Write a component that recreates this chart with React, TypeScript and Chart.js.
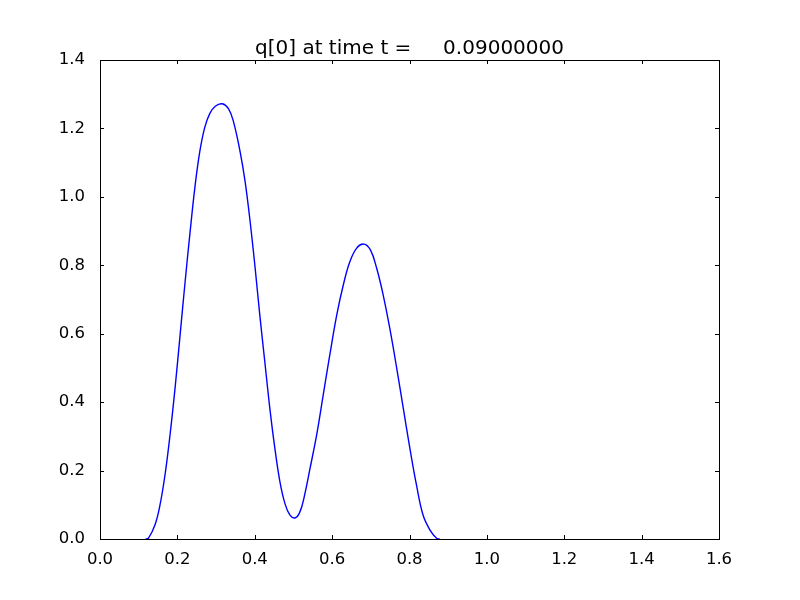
import React, { useEffect, useRef } from "react";
import { Chart, registerables } from "chart.js";

Chart.register(...registerables);

const titleText = "q[0] at time t =     0.09000000";

const xValues = [
  0.118, 0.125, 0.142, 0.155, 0.168, 0.181, 0.194, 0.207, 0.22, 0.233, 0.245, 0.258, 0.271, 0.284, 0.298,
  0.316, 0.332, 0.345, 0.362, 0.375, 0.388, 0.401, 0.413, 0.426, 0.439, 0.452, 0.465, 0.478, 0.491,
  0.505, 0.517, 0.528, 0.543, 0.56, 0.577, 0.594, 0.612, 0.629, 0.646, 0.664, 0.682, 0.699, 0.715,
  0.732, 0.749, 0.767, 0.784, 0.801, 0.818, 0.835, 0.853, 0.87, 0.878,
];
const qValues = [
  0.0, 0.002, 0.041, 0.099, 0.187, 0.304, 0.441, 0.596, 0.752, 0.899, 1.025, 1.133, 1.204, 1.244, 1.265,
  1.272, 1.258, 1.22, 1.133, 1.045, 0.928, 0.792, 0.655, 0.518, 0.382, 0.265, 0.168, 0.104, 0.07,
  0.062, 0.08, 0.124, 0.207, 0.304, 0.421, 0.538, 0.655, 0.743, 0.811, 0.851, 0.862, 0.845, 0.792,
  0.713, 0.616, 0.499, 0.382, 0.265, 0.158, 0.07, 0.026, 0.002, 0.0,
];
const xTicks = [0, 0.2, 0.4, 0.6, 0.8, 1.0, 1.2, 1.4, 1.6];
const yTicks = [0, 0.2, 0.4, 0.6, 0.8, 1.0, 1.2, 1.4];

const FONT = "'DejaVu Sans', sans-serif";

const framePlugin = {
  id: "mplFrame",
  afterDraw(chart: any) {
    const { ctx, chartArea, scales } = chart;
    const { left, right, top, bottom } = chartArea;
    ctx.save();
    ctx.strokeStyle = "#000";
    ctx.lineWidth = 1;
    ctx.beginPath();
    for (const v of xTicks) {
      const px = Math.round(scales.x.getPixelForValue(v)) + 0.5;
      ctx.moveTo(px, bottom);
      ctx.lineTo(px, bottom - 4);
      ctx.moveTo(px, top);
      ctx.lineTo(px, top + 4);
    }
    for (const v of yTicks) {
      const py = Math.round(scales.y.getPixelForValue(v)) + 0.5;
      ctx.moveTo(left, py);
      ctx.lineTo(left + 4, py);
      ctx.moveTo(right, py);
      ctx.lineTo(right - 4, py);
    }
    ctx.stroke();
    ctx.strokeRect(Math.round(left) + 0.5, Math.round(top) + 0.5, Math.round(right - left), Math.round(bottom - top));
    ctx.fillStyle = "#000";
    ctx.font = `20px ${FONT}`;
    ctx.textAlign = "center";
    ctx.textBaseline = "alphabetic";
    ctx.fillText(titleText, (left + right) / 2, top - 6);
    ctx.restore();
  },
};

export default function App() {
  const canvasRef = useRef<HTMLCanvasElement | null>(null);

  useEffect(() => {
    if (!canvasRef.current) return;
    const points = xValues.map((x, i) => ({ x, y: qValues[i] }));
    const chart = new Chart(canvasRef.current, {
      type: "scatter",
      data: {
        datasets: [
          {
            data: points,
            showLine: true,
            borderColor: "#0000ff",
            borderWidth: 1.4,
            pointRadius: 0,
            tension: 0.4,
            fill: false,
          },
        ],
      },
      options: {
        animation: false,
        responsive: false,
        devicePixelRatio: 1,
        layout: { padding: { left: 0, right: 81, top: 60, bottom: 0 } },
        plugins: { legend: { display: false }, tooltip: { enabled: false }, title: { display: false } },
        scales: {
          x: {
            type: "linear",
            min: 0,
            max: 1.6,
            border: { display: false },
            grid: { display: false },
            afterFit: (s: any) => {
              s.height = 61;
            },
            afterBuildTicks: (s: any) => {
              s.ticks = xTicks.map((v) => ({ value: v }));
            },
            ticks: {
              color: "#000",
              padding: 3,
              font: { family: FONT, size: 16.5 },
              callback: (v: any) => Number(v).toFixed(1),
              maxRotation: 0,
            },
          },
          y: {
            type: "linear",
            min: 0,
            max: 1.4,
            border: { display: false },
            grid: { display: false },
            afterFit: (s: any) => {
              s.width = 100;
            },
            afterBuildTicks: (s: any) => {
              s.ticks = yTicks.map((v) => ({ value: v }));
            },
            ticks: {
              color: "#000",
              padding: 7,
              font: { family: FONT, size: 16.5 },
              callback: (v: any) => Number(v).toFixed(1),
            },
          },
        },
      },
      plugins: [framePlugin],
    });
    return () => chart.destroy();
  }, []);

  return (
    <div style={{ position: "fixed", left: 0, top: 0, width: 800, height: 600, background: "#fff" }}>
      <canvas ref={canvasRef} width={800} height={600} style={{ width: 800, height: 600 }} />
    </div>
  );
}
